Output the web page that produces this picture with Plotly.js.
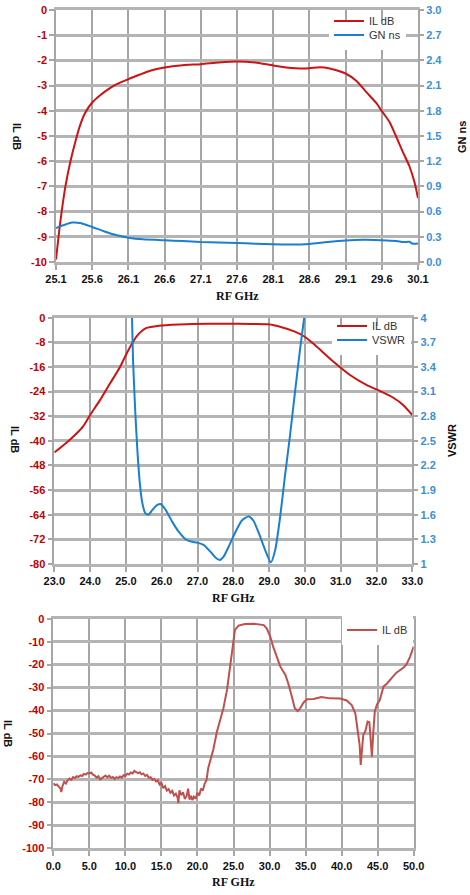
<!DOCTYPE html>
<html>
<head>
<meta charset="utf-8">
<script src="https://cdn.plot.ly/plotly-3.0.1.min.js"></script>
<style>
  html, body { margin: 0; padding: 0; background: #ffffff; }
  #chart { width: 470px; height: 895px; }
</style>
</head>
<body>
<div id="chart"></div>
<script>
// ---------- Chart 1: IL dB and GN ns, 25.1 - 30.1 GHz ----------
const c1Freq = [25.10,25.16,25.23,25.30,25.37,25.43,25.50,25.60,25.71,25.85,25.94,26.10,26.26,26.40,26.60,26.85,27.10,27.35,27.60,27.85,28.10,28.35,28.47,28.60,28.75,28.88,29.10,29.25,29.39,29.52,29.60,29.71,29.80,29.89,29.98,30.05,30.10];
const c1IL   = [-9.9,-8.4,-7.0,-6.0,-5.2,-4.6,-4.1,-3.67,-3.38,-3.09,-2.94,-2.74,-2.56,-2.41,-2.28,-2.19,-2.15,-2.08,-2.04,-2.08,-2.2,-2.3,-2.32,-2.31,-2.27,-2.32,-2.52,-2.82,-3.27,-3.68,-4.01,-4.46,-5.03,-5.63,-6.19,-6.82,-7.46];
const c1GNFreq = [25.10,25.20,25.32,25.43,25.60,25.76,25.94,26.10,26.30,26.60,26.85,27.10,27.35,27.60,27.85,28.10,28.35,28.60,28.85,29.10,29.35,29.60,29.80,29.90,29.98,30.03,30.10];
const c1GN     = [0.405,0.437,0.469,0.465,0.417,0.366,0.318,0.29,0.27,0.258,0.25,0.238,0.232,0.226,0.218,0.21,0.207,0.215,0.238,0.256,0.264,0.26,0.25,0.238,0.24,0.218,0.22];
const c1XTicks = [25.1,25.6,26.1,26.6,27.1,27.6,28.1,28.6,29.1,29.6,30.1];
const c1YTicks = [0,-1,-2,-3,-4,-5,-6,-7,-8,-9,-10];
const c1Y2Ticks = [0.0,0.3,0.6,0.9,1.2,1.5,1.8,2.1,2.4,2.7,3.0];

// ---------- Chart 2: IL dB and VSWR, 23 - 33 GHz ----------
const c2Freq = [23.0,23.34,23.62,23.81,24.0,24.28,24.56,24.84,25.0,25.2,25.37,25.56,25.93,26.5,26.85,27.78,28.5,28.98,29.35,29.72,30.0,30.28,30.8,31.26,31.73,32.0,32.47,32.75,33.0];
const c2IL   = [-43.8,-40.6,-37.6,-35.2,-31.6,-26.7,-21.3,-15.9,-12.1,-7.8,-5.1,-3.4,-2.6,-2.2,-2.05,-1.95,-2.05,-2.16,-3.1,-4.5,-6.2,-8.9,-14.3,-18.6,-21.9,-23.3,-26.0,-28.4,-31.6];
const c2VFreq = [25.17,25.20,25.26,25.32,25.39,25.46,25.54,25.63,25.74,25.88,25.97,26.11,26.30,26.48,26.67,26.85,26.99,27.18,27.36,27.50,27.62,27.73,27.87,28.06,28.24,28.43,28.56,28.70,28.89,29.05,29.17,29.31,29.44,29.58,29.72,29.86,29.98];
const c2VSWR  = [4.0,3.48,2.87,2.39,1.98,1.74,1.62,1.60,1.66,1.72,1.73,1.66,1.51,1.39,1.30,1.27,1.26,1.23,1.15,1.08,1.05,1.09,1.21,1.39,1.53,1.58,1.53,1.39,1.17,1.02,1.17,1.58,2.06,2.55,3.08,3.60,4.0];
const c2XTicks = [23,24,25,26,27,28,29,30,31,32,33];
const c2YTicks = [0,-8,-16,-24,-32,-40,-48,-56,-64,-72,-80];
const c2Y2Ticks = [1,1.3,1.6,1.9,2.2,2.5,2.8,3.1,3.4,3.7,4];
const c2Y2Text  = ['1','1.3','1.6','1.9','2.2','2.5','2.8','3.1','3.4','3.7','4'];

// ---------- Chart 3: IL dB wideband, 0 - 50 GHz ----------
const c3Freq = [0.0,0.25,0.5,0.75,1.0,1.1,1.25,1.5,1.75,2.0,2.25,2.5,2.75,3.0,3.25,3.5,3.75,4.0,4.25,4.5,4.75,5.0,5.25,5.5,5.75,6.0,6.25,6.5,6.75,7.0,7.25,7.5,7.75,8.0,8.25,8.5,8.75,9.0,9.25,9.5,9.75,10.0,10.25,10.5,10.75,11.0,11.25,11.5,11.75,12.0,12.25,12.5,12.75,13.0,13.25,13.5,13.75,14.0,14.25,14.5,14.75,15.0,15.25,15.5,15.75,16.0,16.25,16.5,16.75,17.0,17.25,17.35,17.5,17.75,18.0,18.25,18.5,18.7,18.9,19.1,19.3,19.5,19.75,20.0,20.25,20.5,20.75,21.0,21.25,21.5,21.75,22.0,22.2,22.7,23.15,23.6,24.1,24.5,25.0,25.2,25.7,26.6,27.8,29.2,29.6,30.1,30.5,31.0,31.5,32.2,32.6,33.1,33.5,33.9,34.2,34.7,35.2,36.1,37.2,38.4,39.8,40.7,41.4,41.9,42.2,42.5,42.65,42.8,43.0,43.3,43.6,43.85,44.0,44.2,44.4,44.6,44.9,45.3,45.8,46.3,46.9,47.6,48.6,49.0,49.5,50.0];
const c3IL   = [-71.7,-72.5,-72.2,-73.0,-74.0,-75.5,-73.2,-71.0,-71.8,-70.3,-69.6,-70.2,-69.0,-69.4,-68.6,-68.9,-68.2,-68.5,-67.6,-67.9,-67.2,-67.4,-67.0,-67.9,-68.3,-69.2,-68.6,-70.0,-69.3,-68.8,-68.3,-69.1,-68.4,-69.3,-68.9,-69.8,-69.0,-69.4,-68.7,-69.2,-68.2,-68.5,-67.5,-67.9,-67.0,-67.4,-66.3,-66.8,-67.3,-66.9,-67.8,-67.4,-68.5,-68.0,-69.3,-69.0,-70.2,-69.8,-70.9,-70.4,-72.2,-71.5,-73.8,-72.9,-74.9,-74.2,-75.8,-75.0,-77.0,-76.2,-78.0,-80.3,-74.8,-76.9,-75.6,-78.5,-77.2,-74.0,-78.8,-77.2,-79.0,-77.5,-78.4,-75.8,-77.0,-74.0,-74.8,-71.8,-70.3,-65.0,-62.0,-59.0,-57.0,-49.2,-43.4,-39.0,-31.0,-21.6,-8.6,-4.9,-3.0,-2.3,-2.2,-2.8,-4.2,-7.8,-12.2,-16.5,-20.9,-24.5,-28.2,-34.0,-39.0,-40.2,-39.3,-36.6,-35.1,-35.0,-34.1,-34.7,-34.8,-35.6,-37.6,-41.2,-47.7,-55.0,-63.7,-56.5,-50.7,-48.9,-44.8,-45.1,-52.1,-60.1,-49.2,-40.5,-37.3,-35.4,-29.6,-28.2,-26.0,-23.5,-21.3,-19.9,-16.5,-12.2];
const c3XTicks = [0,5,10,15,20,25,30,35,40,45,50];
const c3YTicks = [0,-10,-20,-30,-40,-50,-60,-70,-80,-90,-100];

// ---------- styling ----------
const W = 470, H = 895;
const RED = '#cc1414', BLUE = '#1b7fd1', RED3 = '#c0504d';
const TICKRED = '#c00000', TICKBLUE = '#3a8fd8';
const GRID = '#a6a6a6';
const HGRID = '#b4b4b4';
const GW = 1.6;
const HGW = 3;
const tickFontFam = 'Liberation Sans, Arial, sans-serif';
const px = v => v / W;
const py = v => 1 - v / H;

function xAxis(domL, domR, anchor, range, ticks, fmt) {
  return {
    domain: [px(domL), px(domR)], anchor: anchor, range: range,
    tickmode: 'array', tickvals: ticks, ticktext: ticks.map(t => t.toFixed(fmt)),
    showgrid: true, gridcolor: GRID, gridwidth: GW,
    showline: true, linecolor: HGRID, linewidth: HGW, mirror: true,
    ticks: 'outside', ticklen: 5, tickcolor: GRID, tickwidth: GW,
    zeroline: false,
    tickfont: { family: tickFontFam, size: 11, color: '#111111', weight: 'bold' }
  };
}
function yAxis(domTop, domBot, anchor, range, ticks, color) {
  return {
    domain: [py(domBot), py(domTop)], anchor: anchor, range: range,
    tickmode: 'array', tickvals: ticks, ticktext: ticks.map(String),
    showgrid: true, gridcolor: HGRID, gridwidth: HGW,
    showline: true, linecolor: GRID, linewidth: GW, mirror: true,
    ticks: 'outside', ticklen: 5, tickcolor: GRID, tickwidth: GW,
    zeroline: false,
    tickfont: { family: tickFontFam, size: 11, color: color, weight: 'bold' }
  };
}
function y2Axis(over, anchor, range, ticks, texts) {
  return {
    overlaying: over, side: 'right', anchor: anchor, range: range,
    tickmode: 'array', tickvals: ticks, ticktext: texts,
    showgrid: false, showline: false, zeroline: false,
    ticks: 'outside', ticklen: 5, tickcolor: GRID, tickwidth: GW,
    tickfont: { family: tickFontFam, size: 11, color: TICKBLUE, weight: 'bold' }
  };
}
function legendAt(xPix, yPix, bg) {
  return {
    x: px(xPix), y: py(yPix), xanchor: 'left', yanchor: 'middle',
    bgcolor: bg, borderwidth: 0, tracegroupgap: 0,
    font: { family: 'Liberation Sans, Arial, sans-serif', size: 11, color: '#333333' }
  };
}

const traces = [
  { x: c1GNFreq, y: c1GN, xaxis: 'x', yaxis: 'y2', name: 'GN ns', legend: 'legend',
    mode: 'lines', line: { color: BLUE, width: 2, shape: 'spline', smoothing: 0.6 } },
  { x: c1Freq, y: c1IL, xaxis: 'x', yaxis: 'y', name: 'IL dB', legend: 'legend4',
    mode: 'lines', line: { color: RED, width: 2, shape: 'spline', smoothing: 0.6 } },
  { x: c2VFreq, y: c2VSWR, xaxis: 'x2', yaxis: 'y4', name: 'VSWR', legend: 'legend2',
    mode: 'lines', line: { color: BLUE, width: 2, shape: 'spline', smoothing: 0.6 } },
  { x: c2Freq, y: c2IL, xaxis: 'x2', yaxis: 'y3', name: 'IL dB', legend: 'legend5',
    mode: 'lines', line: { color: RED, width: 2, shape: 'spline', smoothing: 0.6 } },
  { x: c3Freq, y: c3IL, xaxis: 'x3', yaxis: 'y5', name: 'IL dB', legend: 'legend3',
    mode: 'lines', line: { color: RED3, width: 2 } }
];

const titleFont = { family: 'Liberation Serif, Times New Roman, serif', size: 12, color: '#111111', weight: 'bold' };
const yTitleFont = { family: 'Liberation Sans, Arial, sans-serif', size: 11, color: '#111111', weight: 'bold' };
function ann(text, xPix, yPix, angle, font) {
  return { text: text, xref: 'paper', yref: 'paper', x: px(xPix), y: py(yPix),
           xanchor: 'center', yanchor: 'middle', showarrow: false, textangle: angle, font: font };
}

const layout = {
  width: W, height: H,
  margin: { l: 0, r: 0, t: 0, b: 0, autoexpand: false },
  paper_bgcolor: '#ffffff', plot_bgcolor: '#ffffff',
  showlegend: true,
  xaxis:  xAxis(56, 418, 'y', [25.1, 30.1], c1XTicks, 1),
  yaxis:  yAxis(10, 262, 'x', [-10, 0], c1YTicks, TICKRED),
  yaxis2: y2Axis('y', 'x', [0, 3], c1Y2Ticks, c1Y2Ticks.map(t => t.toFixed(1))),
  xaxis2: xAxis(54.3, 412.3, 'y3', [23, 33], c2XTicks, 1),
  yaxis3: yAxis(317.7, 564, 'x2', [-80, 0], c2YTicks, TICKRED),
  yaxis4: y2Axis('y3', 'x2', [1, 4], c2Y2Ticks, c2Y2Text),
  xaxis3: xAxis(53.3, 413.7, 'y5', [0, 50], c3XTicks, 1),
  yaxis5: yAxis(618.7, 848.3, 'x3', [-100, 0], c3YTicks, TICKRED),
  legend:  legendAt(329, 35, '#ffffff'),
  legend2: legendAt(332, 340, '#ffffff'),
  legend3: legendAt(342, 630, '#ffffff'),
  legend4: legendAt(329, 21, 'rgba(0,0,0,0)'),
  legend5: legendAt(332, 326, 'rgba(0,0,0,0)'),
  annotations: [
    ann('IL dB', 17, 136, 90, yTitleFont),
    ann('GN ns', 462, 137, -90, yTitleFont),
    ann('RF GHz', 238, 296, 0, titleFont),
    ann('IL dB', 15, 440, 90, yTitleFont),
    ann('VSWR', 452, 441, -90, yTitleFont),
    ann('RF GHz', 233, 598, 0, titleFont),
    ann('IL dB', 8, 733, 90, yTitleFont),
    ann('RF GHz', 233, 882, 0, titleFont)
  ]
};

Plotly.newPlot('chart', traces, layout, { displayModeBar: false });
</script>
</body>
</html>
